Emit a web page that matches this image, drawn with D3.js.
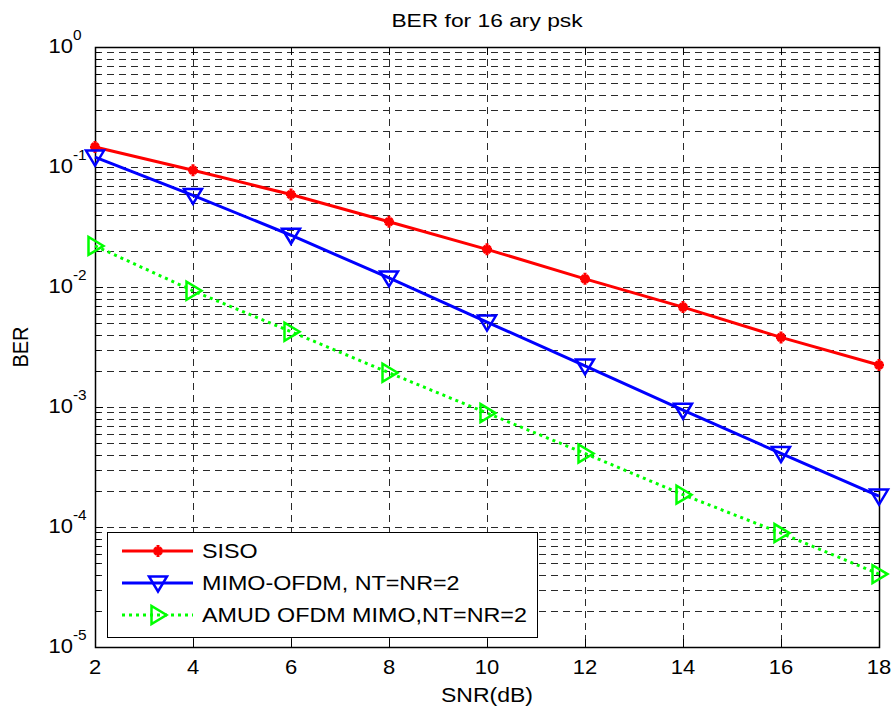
<!DOCTYPE html>
<html>
<head>
<meta charset="utf-8">
<script src="https://cdn.jsdelivr.net/npm/d3@7"></script>
<style>
  body { margin: 0; background: #fff; }
  text { font-family: "Liberation Sans", Arial, sans-serif; fill: #000; }
</style>
</head>
<body>
<div id="chart"></div>
<script>
// data
var snr = [2, 4, 6, 8, 10, 12, 14, 16, 18];
var berSiso = [0.147, 0.094, 0.059, 0.035, 0.0206, 0.0117, 0.0068, 0.0038, 0.00224];
var berMimo = [0.121, 0.058, 0.027, 0.0119, 0.0051, 0.0022, 0.00094, 0.00041, 0.000181];
var berAmud = [0.022, 0.0093, 0.00424, 0.00193, 0.00089, 0.00041, 0.000186, 0.000089, 0.0000405];
var seriesNames = ["SISO", "MIMO-OFDM, NT=NR=2", "AMUD OFDM MIMO,NT=NR=2"];
var xTicks = [2, 4, 6, 8, 10, 12, 14, 16, 18];
var yExponents = [0, -1, -2, -3, -4, -5];

// dimensions of the graph
var margin = { top: 47, right: 15, bottom: 62, left: 95 },
    width = 894 - margin.left - margin.right,
    height = 709 - margin.top - margin.bottom;

var svg = d3.select("#chart")
    .append("svg")
    .attr("width", 894)
    .attr("height", 709);

var g = svg.append("g")
    .attr("transform", "translate(" + margin.left + "," + margin.top + ")");

var x = d3.scaleLinear().domain([2, 18]).range([0, width]);
var y = d3.scaleLog().domain([1e-5, 1]).range([height, 0]);

// the original picture is a bit stretched sideways, so text gets a horizontal scale
function addText(parent, tx, ty, str, size, anchor, sx) {
    return parent.append("text")
        .attr("transform", "translate(" + tx + "," + ty + ") scale(" + sx + ",1)")
        .attr("text-anchor", anchor)
        .attr("font-size", size + "px")
        .text(str);
}

// minor values for the log grid
var minorVals = [];
for (var e = -5; e < 0; e++) {
    for (var m = 2; m <= 9; m++) minorVals.push(m * Math.pow(10, e));
}
var majorVals = yExponents.map(function(p) { return Math.pow(10, p); });

// grid lines
var grid = g.append("g")
    .attr("stroke", "#2a2a2a")
    .attr("stroke-width", 1)
    .attr("stroke-dasharray", "7,5")
    .attr("shape-rendering", "crispEdges");

grid.selectAll(".hgrid")
    .data(minorVals.concat(majorVals.slice(1, 5)))
    .enter()
    .append("line")
    .attr("x1", 0).attr("x2", width)
    .attr("y1", function(d) { return Math.round(y(d)) + 0.5; })
    .attr("y2", function(d) { return Math.round(y(d)) + 0.5; });

grid.selectAll(".vgrid")
    .data(xTicks.slice(1, xTicks.length - 1))
    .enter()
    .append("line")
    .attr("y1", 0).attr("y2", height)
    .attr("x1", function(d) { return Math.round(x(d)) + 0.5; })
    .attr("x2", function(d) { return Math.round(x(d)) + 0.5; });

// inward ticks on all four sides
var ticksG = g.append("g")
    .attr("stroke", "#000")
    .attr("stroke-width", 1)
    .attr("shape-rendering", "crispEdges");

function tickLines(vals, len, vertical) {
    vals.forEach(function(v) {
        if (vertical) {
            var py = Math.round(y(v)) + 0.5;
            ticksG.append("line").attr("x1", 0).attr("x2", len).attr("y1", py).attr("y2", py);
            ticksG.append("line").attr("x1", width).attr("x2", width - len).attr("y1", py).attr("y2", py);
        } else {
            var px = Math.round(x(v)) + 0.5;
            ticksG.append("line").attr("y1", height).attr("y2", height - len).attr("x1", px).attr("x2", px);
            ticksG.append("line").attr("y1", 0).attr("y2", len).attr("x1", px).attr("x2", px);
        }
    });
}
tickLines(minorVals, 5, true);
tickLines(majorVals, 8, true);
tickLines(xTicks, 8, false);

// box
g.append("rect")
    .attr("x", 0.5).attr("y", 0.5)
    .attr("width", width).attr("height", height)
    .attr("fill", "none")
    .attr("stroke", "#000")
    .attr("stroke-width", 1.5);

// x tick labels
xTicks.forEach(function(d) {
    addText(g, x(d), height + 27, d, 20, "middle", 1.1);
});

// y tick labels 10^n
yExponents.forEach(function(p) {
    var ty = y(Math.pow(10, p));
    addText(g, -22, ty + 6, "10", 20, "end", 1.1);
    addText(g, -22, ty - 7, p, 14, "start", 1.1);
});

// series
var series = [
    { name: seriesNames[0], values: berSiso, color: "#ff0000", dash: null, marker: "star" },
    { name: seriesNames[1], values: berMimo, color: "#0000ff", dash: null, marker: "down" },
    { name: seriesNames[2], values: berAmud, color: "#00ff00", dash: "3,4", marker: "right" }
];

var line = d3.line()
    .x(function(d) { return x(d[0]); })
    .y(function(d) { return y(d[1]); });

function drawMarker(sel, type, cx, cy, color) {
    if (type === "star") {
        var s = 5;
        sel.append("path")
            .attr("d", "M" + (cx - s) + "," + cy + "L" + (cx + s) + "," + cy +
                "M" + cx + "," + (cy - s - 1) + "L" + cx + "," + (cy + s + 1) +
                "M" + (cx - 3.5) + "," + (cy - 3.5) + "L" + (cx + 3.5) + "," + (cy + 3.5) +
                "M" + (cx - 3.5) + "," + (cy + 3.5) + "L" + (cx + 3.5) + "," + (cy - 3.5))
            .attr("stroke", color).attr("stroke-width", 3).attr("fill", "none");
        sel.append("circle").attr("cx", cx).attr("cy", cy).attr("r", 3.5).attr("fill", color);
    } else if (type === "down") {
        sel.append("path")
            .attr("d", "M" + (cx - 9) + "," + (cy - 6.5) + "L" + (cx + 9) + "," + (cy - 6.5) +
                "L" + cx + "," + (cy + 8.5) + "Z")
            .attr("stroke", color).attr("stroke-width", 2.5).attr("fill", "none");
    } else {
        sel.append("path")
            .attr("d", "M" + (cx - 6.5) + "," + (cy - 9) + "L" + (cx - 6.5) + "," + (cy + 9) +
                "L" + (cx + 8.5) + "," + cy + "Z")
            .attr("stroke", color).attr("stroke-width", 2.5).attr("fill", "none");
    }
}

series.forEach(function(s) {
    var pts = snr.map(function(v, i) { return [v, s.values[i]]; });
    g.append("path")
        .datum(pts)
        .attr("d", line)
        .attr("fill", "none")
        .attr("stroke", s.color)
        .attr("stroke-width", 3)
        .attr("stroke-dasharray", s.dash);
    var mg = g.append("g");
    pts.forEach(function(p) {
        drawMarker(mg, s.marker, x(p[0]), y(p[1]), s.color);
    });
});

// legend
var legend = svg.append("g").attr("transform", "translate(107,532)");
legend.append("rect")
    .attr("x", 0.5).attr("y", 0.5)
    .attr("width", 430).attr("height", 105)
    .attr("fill", "#fff")
    .attr("stroke", "#000")
    .attr("stroke-width", 1);

series.forEach(function(s, i) {
    var ly = 19 + i * 32;
    legend.append("line")
        .attr("x1", 15).attr("x2", 86)
        .attr("y1", ly).attr("y2", ly)
        .attr("stroke", s.color)
        .attr("stroke-width", 3)
        .attr("stroke-dasharray", s.dash);
    drawMarker(legend, s.marker, 51, ly, s.color);
    addText(legend, 95, ly + 7, s.name, 21, "start", 1.11);
});

// title and axis labels
addText(svg, margin.left + width / 2, 27, "BER for 16 ary psk", 19, "middle", 1.2);
addText(svg, margin.left + width / 2, 702, "SNR(dB)", 20, "middle", 1.15);

svg.append("text")
    .attr("transform", "translate(28," + (margin.top + height / 2) + ") rotate(-90) scale(1,1.1)")
    .attr("text-anchor", "middle")
    .attr("font-size", "20px")
    .text("BER");
</script>
</body>
</html>
